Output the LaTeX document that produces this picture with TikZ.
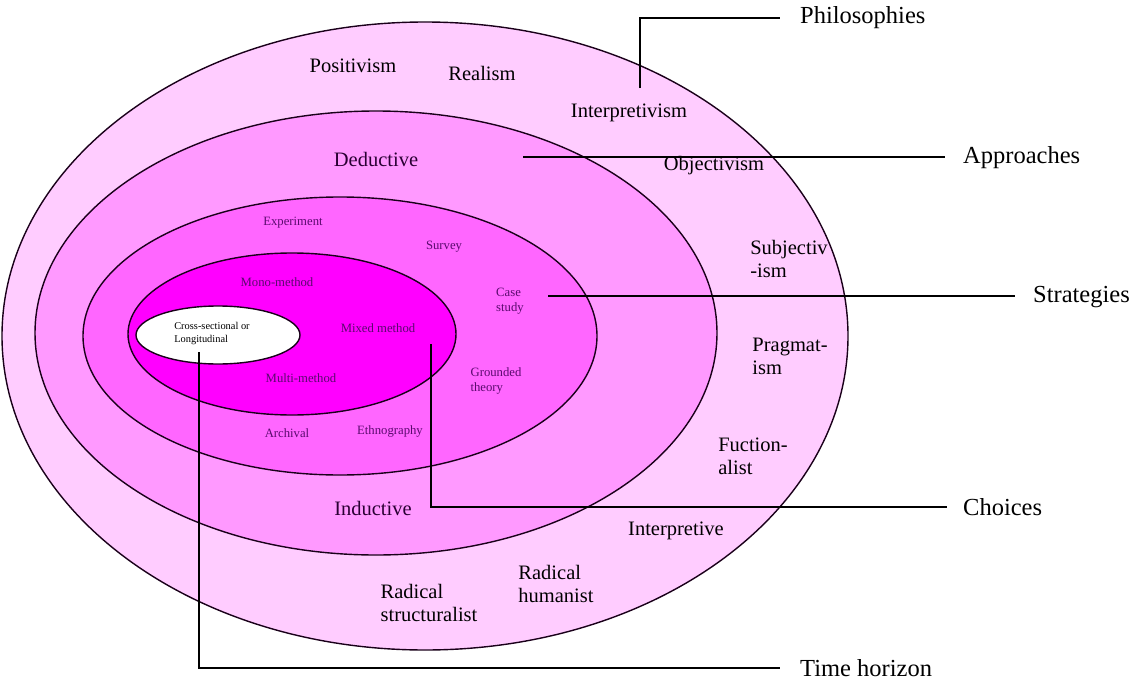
\documentclass[tikz,border=0pt]{standalone}
\usepackage{fontspec}
\setmainfont{Liberation Serif}
\usetikzlibrary{shapes.geometric}
\definecolor{ringA}{HTML}{FFCCFF}
\definecolor{ringB}{HTML}{FF99FF}
\definecolor{ringC}{HTML}{FF66FF}
\definecolor{ringD}{HTML}{FF00FF}
\definecolor{innertext}{HTML}{5A0A6E}
\definecolor{midtext}{HTML}{2A0033}
\definecolor{ringline}{HTML}{1A001A}
\begin{document}
\begin{tikzpicture}[x=1pt,y=-1pt,
  ring/.style={ellipse, draw=ringline, line width=1.4pt, inner sep=0pt},
  conn/.style={draw=black, line width=2pt},
  bigtxt/.style={font=\fontsize{24.5}{27}\selectfont, anchor=west, inner sep=0pt},
  midtxt/.style={font=\fontsize{20.5}{23}\selectfont, align=left, inner sep=0pt},
  smalltxt/.style={font=\fontsize{12.7}{15}\selectfont, text=innertext, align=left, inner sep=0pt},
  tinytxt/.style={font=\fontsize{10.4}{13}\selectfont, align=left, inner sep=0pt}]
\useasboundingbox (0,0) rectangle (1140,685);
\fill[white] (0,0) rectangle (1140,685);
% rings
\node[ring, fill=ringA, minimum width=846pt, minimum height=628pt] (philo) at (425,336) {};
\node[ring, fill=ringB, minimum width=682pt, minimum height=444pt] (appr) at (376,333) {};
\node[ring, fill=ringC, minimum width=514pt, minimum height=278pt] (strat) at (340,336) {};
\node[ring, fill=ringD, minimum width=328pt, minimum height=162pt] (choice) at (292,334) {};
\node[ring, fill=white, minimum width=164pt, minimum height=58pt] (timeh) at (218,335) {};
% outer ring labels
\node[midtxt] (positivism) at (353,66) {Positivism};
\node[midtxt] (realism) at (482,73) {Realism};
\node[midtxt] (interpretivism) at (629,113) {Interpretivism};
\node[midtxt] (objectivism) at (714,166) {Objectivism};
\node[midtxt] (subjectivism) at (789,259) {Subjectiv\\-ism};
\node[midtxt] (pragmatism) at (790,356) {Pragmat-\\ism};
\node[midtxt] (functionalist) at (753,456) {Fuction-\\alist};
\node[midtxt] (interpretive) at (676,531) {Interpretive};
\node[midtxt] (radstruct) at (429,603) {Radical\\structuralist};
\node[midtxt] (radhum) at (556,584) {Radical\\humanist};
% approaches labels
\node[midtxt, text=midtext] (deductive) at (376,159) {Deductive};
\node[midtxt, text=midtext] (inductive) at (373,508) {Inductive};
% strategies labels
\node[smalltxt] (experiment) at (293,223) {Experiment};
\node[smalltxt] (survey) at (444,247) {Survey};
\node[smalltxt] (casestudy) at (510,301) {Case\\study};
\node[smalltxt] (grounded) at (496,381) {Grounded\\theory};
\node[smalltxt] (archival) at (287,433) {Archival};
\node[smalltxt] (ethno) at (390,431) {Ethnography};
% choices labels
\node[smalltxt] (mono) at (277,282) {Mono-method};
\node[smalltxt] (mixed) at (378,328) {Mixed method};
\node[smalltxt] (multi) at (301,378) {Multi-method};
% time horizon label
\node[tinytxt] (crosslong) at (212,334) {Cross-sectional or\\Longitudinal};
% side labels
\node[bigtxt] (lphilo) at (800,18) {Philosophies};
\node[bigtxt] (lappr) at (963,158) {Approaches};
\node[bigtxt] (lstrat) at (1033,297) {Strategies};
\node[bigtxt] (lchoice) at (963,507) {Choices};
\node[bigtxt] (ltime) at (800,668) {Time horizon};
% connector start points
\coordinate (sphilo) at (640,88);
\coordinate (sappr) at (523,157);
\coordinate (sstrat) at (548,296);
\coordinate (schoice) at (431,344);
\coordinate (stime) at (199,352);
% connectors
\draw[conn, shorten >=20pt] (sphilo) |- (lphilo.west);
\draw[conn, shorten >=18pt] (sappr) -- (sappr -| lappr.west);
\draw[conn, shorten >=18pt] (sstrat) -- (sstrat -| lstrat.west);
\draw[conn, shorten >=16pt] (schoice) |- (lchoice.west);
\draw[conn, shorten >=20pt] (stime) |- (ltime.west);
\end{tikzpicture}
\end{document}
